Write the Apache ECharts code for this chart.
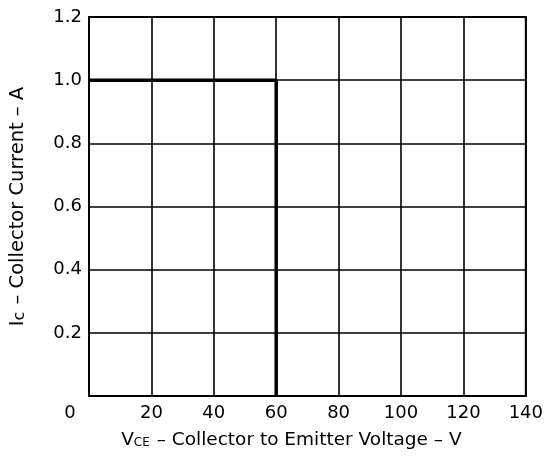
<!DOCTYPE html>
<html><head><meta charset="utf-8">
<script src="https://cdn.jsdelivr.net/npm/echarts@6/dist/echarts.min.js"></script>
<style>html,body{margin:0;padding:0;background:#fff}#c{width:546px;height:465px}</style>
</head><body><div id="c"></div>
<script>
const xTicks = [0, 20, 40, 60, 80, 100, 120, 140];
const yTicks = [0, 0.2, 0.4, 0.6, 0.8, 1.0, 1.2];
const socVce = [0, 60, 60];
const socIc = [1.0, 1.0, 0];

const chart = echarts.init(document.getElementById('c'), null, {renderer: 'canvas'});
const F = 'DejaVu Sans, Verdana, sans-serif';
chart.setOption({
  animation: false,
  backgroundColor: '#fff',
  grid: {left: 89, right: 10, top: 17, bottom: 69, show: true, borderColor: '#000', borderWidth: 2},
  xAxis: {
    type: 'value', min: xTicks[0], max: xTicks[xTicks.length-1], interval: 20,
    name: '{a|V}{s|CE}{a| – Collector to Emitter Voltage – V}',
    nameLocation: 'middle', nameGap: 35,
    nameTextStyle: {padding: [0, 32, 0, 0], rich: {a: {fontFamily: F, fontSize: 18.5, color: '#000'}, s: {fontFamily: F, fontSize: 12, color: '#000', padding: [5,1,0,0]}}},
    axisLine: {show: false}, axisTick: {show: false},
    splitLine: {show: true, lineStyle: {color: '#000', width: 1.6}},
    axisLabel: {
      margin: 8, color: '#000', fontFamily: F, fontSize: 18,
      formatter: v => v === 0 ? '{z|0}' : String(v),
      rich: {z: {fontFamily: F, fontSize: 18, color: '#000', padding: [0, 38, 0, 0]}}
    }
  },
  yAxis: {
    type: 'value', min: yTicks[0], max: yTicks[yTicks.length-1], interval: 0.2,
    name: '{a|I}{s|c}{a| – Collector Current – A}',
    nameLocation: 'middle', nameGap: 61, nameRotate: 90,
    nameTextStyle: {rich: {a: {fontFamily: F, fontSize: 19.5, color: '#000'}, s: {fontFamily: F, fontSize: 16, color: '#000', padding: [4,1,0,0]}}},
    axisLine: {show: false}, axisTick: {show: false},
    splitLine: {show: true, lineStyle: {color: '#000', width: 1.6}},
    axisLabel: {
      margin: 7, color: '#000', fontFamily: F, fontSize: 18,
      formatter: v => v === 0 ? '' : v.toFixed(1)
    }
  },
  series: [{
    type: 'line', symbol: 'none',
    data: socVce.map((x, i) => [x, socIc[i]]),
    lineStyle: {color: '#000', width: 3.5}
  }]
});
</script></body></html>
